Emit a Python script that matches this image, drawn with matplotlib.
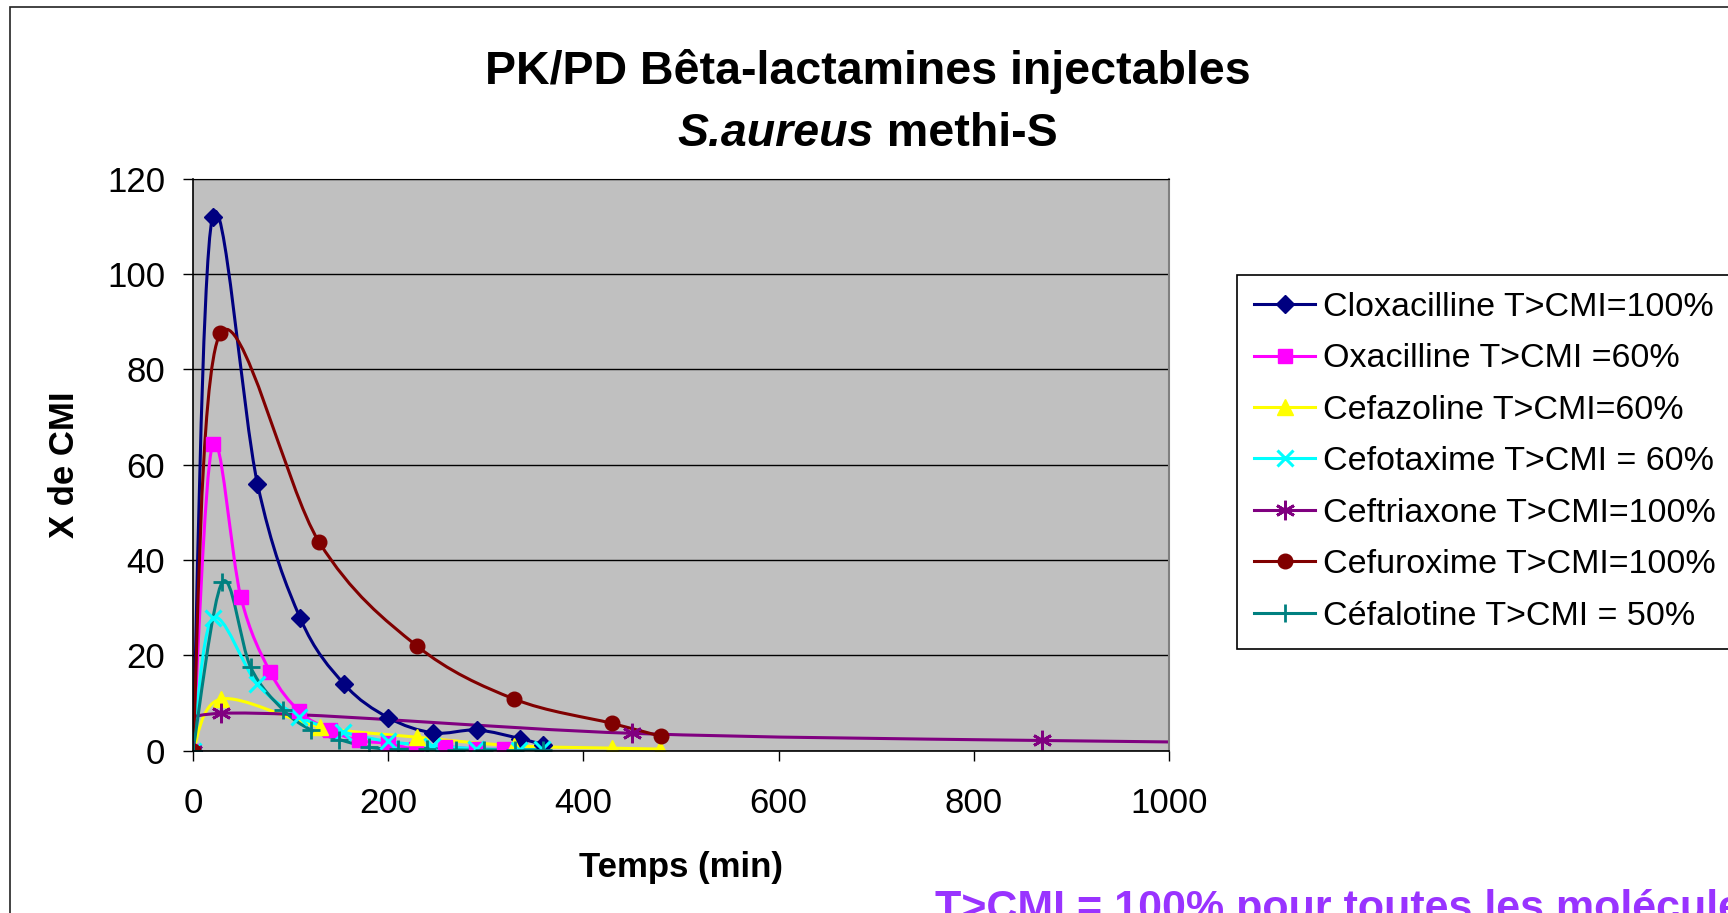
import numpy as np
import matplotlib
matplotlib.use("Agg")
import matplotlib.pyplot as plt
from matplotlib.path import Path
from matplotlib.patches import PathPatch, Rectangle
from matplotlib.lines import Line2D

plt.rcParams['font.family'] = ['Liberation Sans', 'DejaVu Sans']

# time (min) and multiples of the MIC
clox_t = [0, 20, 66, 110, 155, 200, 246, 291, 335, 359]
clox_v = [0, 112, 56, 27.7, 13.9, 6.9, 3.7, 4.3, 2.5, 1.2]

oxa_t = [0, 20, 49, 79, 109, 140, 170, 200, 228, 258, 290, 319]
oxa_v = [0, 64.2, 32.2, 16.5, 8.2, 4.3, 2.1, 1.5, 0.3, 0.8, 0.3, 0.3]

cefaz_t = [0, 29, 130, 229, 329, 429, 478]
cefaz_v = [0, 10.8, 5.0, 2.8, 1.0, 0.5, 0.3]

cefot_t = [0, 20, 66, 109, 154, 200, 245, 290, 334, 358]
cefot_v = [0, 27.7, 13.9, 7.1, 3.9, 1.9, 1.0, 0.4, 0.1, 0.3]

ceftri_t = [0, 29, 450, 870, 1440]
ceftri_v = [0, 7.8, 3.6, 2.1, 1.0]

cefur_t = [0, 28, 129, 229, 329, 429, 479]
cefur_v = [0, 87.5, 43.8, 22.0, 10.8, 5.7, 3.0]

cefal_t = [0, 30, 59, 92, 121, 150, 180, 210, 240, 269, 298, 330, 359]
cefal_v = [0, 35.3, 17.5, 8.6, 4.3, 2.3, 0.7, 0.25, 0.4, 0.1, 0.1, 0.1, 0.1]

labels = ["Cloxacilline T>CMI=100%", "Oxacilline T>CMI =60%",
          "Cefazoline T>CMI=60%", "Cefotaxime T>CMI = 60%",
          "Ceftriaxone T>CMI=100%", "Cefuroxime T>CMI=100%",
          "Céfalotine T>CMI = 50%"]

series = [
    (clox_t, clox_v, '#000080', dict(marker='D', markersize=9.5)),
    (oxa_t, oxa_v, '#FF00FF', dict(marker='s', markersize=9.5)),
    (cefaz_t, cefaz_v, '#FFFF00', dict(marker='^', markersize=11.5)),
    (cefot_t, cefot_v, '#00FFFF', dict(marker='x', markersize=11, markeredgewidth=2.2)),
    (ceftri_t, ceftri_v, '#800080', dict(marker=(6, 2, 0), markersize=14, markeredgewidth=2)),
    (cefur_t, cefur_v, '#800000', dict(marker='o', markersize=10.5)),
    (cefal_t, cefal_v, '#008080', dict(marker='+', markersize=13, markeredgewidth=2)),
]


def smooth_path(x, y):
    # Excel-like smoothed line: Catmull-Rom segments as cubic Beziers
    pts = np.column_stack([x, y]).astype(float)
    n = len(pts)
    verts = [pts[0]]
    codes = [Path.MOVETO]
    for i in range(n - 1):
        p0 = pts[i - 1] if i > 0 else pts[i]
        p1 = pts[i]
        p2 = pts[i + 1]
        p3 = pts[i + 2] if i + 2 < n else pts[i + 1]
        verts += [p1 + (p2 - p0) / 6, p2 - (p3 - p1) / 6, p2]
        codes += [Path.CURVE4] * 3
    return Path(verts, codes)


fig = plt.figure(figsize=(17.28, 9.13), dpi=100)
fig.patch.set_facecolor('white')
fig.patches.append(Rectangle((10 / 1728, -0.05), 1.1, 1 - 7 / 913 + 0.05,
                             transform=fig.transFigure, fill=False,
                             edgecolor='#222222', linewidth=1.2))

ax = fig.add_axes([193 / 1728, 1 - 750.5 / 913, 976 / 1728, 572 / 913])
ax.set_facecolor('#C0C0C0')
ax.set_xlim(0, 1000)
ax.set_ylim(0, 120)
ax.set_xticks(range(0, 1001, 200))
ax.set_yticks(range(0, 121, 20))
ax.tick_params(labelsize=25, length=7, width=1, color='black', direction='out')
ax.tick_params(axis='x', pad=19)
ax.tick_params(axis='y', pad=13)
ax.grid(axis='y', color='black', linewidth=1)
ax.set_axisbelow(True)
for side in ['left', 'bottom']:
    ax.spines[side].set_color('black')
    ax.spines[side].set_linewidth(1.2)
ax.spines['top'].set_color('black')
ax.spines['right'].set_color('#808080')
ax.spines['right'].set_linewidth(1.5)

handles = []
for (t, v, col, mk), lab in zip(series, labels):
    ax.add_patch(PathPatch(smooth_path(t, v), facecolor='none', edgecolor=col,
                           linewidth=2.2, capstyle='round', joinstyle='round'))
    ax.plot(t, v, linestyle='none', color=col, markeredgecolor=col,
            markerfacecolor=col, clip_on=True, **mk)
    handles.append(Line2D([], [], color=col, linewidth=2.2, markeredgecolor=col,
                          markerfacecolor=col, label=lab, **mk))

leg = fig.legend(handles=handles, loc='upper left',
                 bbox_to_anchor=(1237 / 1728, 1 - 275 / 913),
                 fontsize=24.5, frameon=True, fancybox=False, framealpha=1,
                 edgecolor='black', handlelength=1.8, handletextpad=0.22,
                 labelspacing=0.6, borderpad=0.5, borderaxespad=0)
leg.get_frame().set_linewidth(1.2)

# titles and axis labels
fig.text(868 / 1728, 1 - 84 / 913, "PK/PD Bêta-lactamines injectables",
         ha='center', va='baseline', fontsize=33.5, fontweight='bold')
renderer = fig.canvas.get_renderer()
t1 = fig.text(0, 1 - 146 / 913, "S.aureus", ha='left', va='baseline',
              fontsize=33.5, fontweight='bold', fontstyle='italic')
t2 = fig.text(0, 1 - 146 / 913, " methi-S", ha='left', va='baseline',
              fontsize=33.5, fontweight='bold')
w1 = t1.get_window_extent(renderer).width / 1728
w2 = t2.get_window_extent(renderer).width / 1728
x0 = 868 / 1728 - (w1 + w2) / 2
t1.set_x(x0)
t2.set_x(x0 + w1)

fig.text(65 / 1728, 1 - 464.5 / 913, "X de CMI", rotation=90, ha='center',
         va='center', fontsize=25, fontweight='bold')
fig.text(681 / 1728, 1 - 877 / 913, "Temps (min)", ha='center', va='baseline',
         fontsize=25, fontweight='bold')
fig.text(935 / 1728, 1 - 920 / 913, "T>CMI = 100% pour toutes les molécules",
         ha='left', va='baseline', fontsize=31, fontweight='bold', color='#9933FF')

fig.savefig('out.png', dpi=100)
